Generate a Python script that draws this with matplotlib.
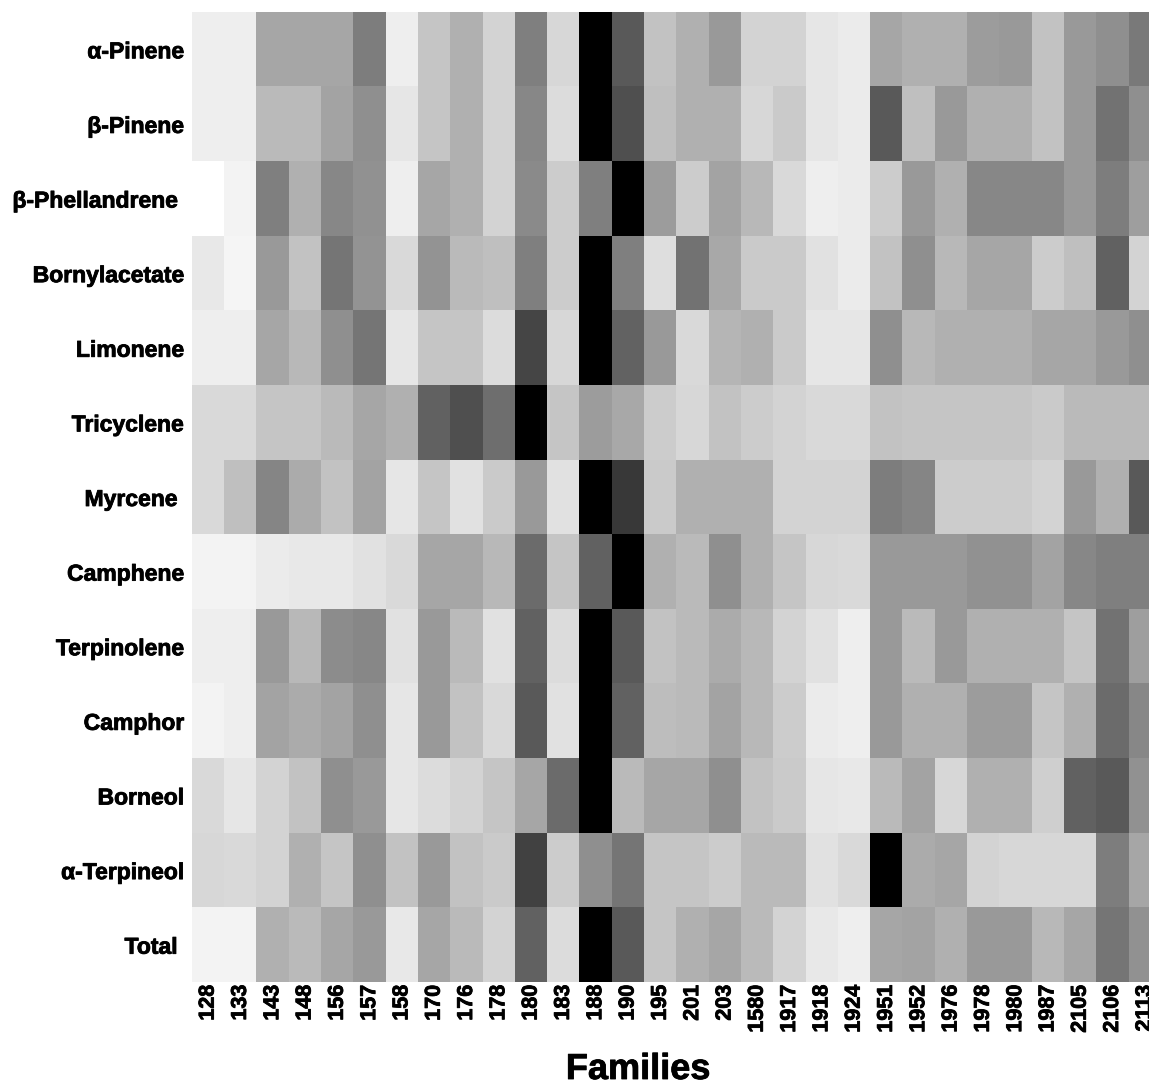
import numpy as np
import matplotlib
matplotlib.use("Agg")
import matplotlib.pyplot as plt
import matplotlib.patheffects as pe

# compounds (rows) and families (columns)
compounds = ["α-Pinene", "β-Pinene", "β-Phellandrene ", "Bornylacetate", "Limonene",
             "Tricyclene", "Myrcene ", "Camphene", "Terpinolene", "Camphor",
             "Borneol", "α-Terpineol", "Total "]
families = ["128", "133", "143", "148", "156", "157", "158", "170", "176", "178",
            "180", "183", "188", "190", "195", "201", "203", "1580", "1917", "1918",
            "1924", "1951", "1952", "1976", "1978", "1980", "1987", "2105", "2106", "2113"]

# relative content per compound, % of the highest family
a_pinene      = [7, 7, 35, 35, 35, 51, 7, 23, 31, 17, 50, 16, 100, 65, 24, 31, 40, 17, 17, 10, 8, 35, 31, 31, 39, 40, 24, 40, 44, 52]
b_pinene      = [7, 7, 27, 27, 36, 44, 10, 23, 31, 17, 47, 14, 100, 69, 25, 31, 31, 16, 21, 10, 8, 65, 25, 40, 31, 31, 24, 40, 55, 44]
b_phellandren = [0, 5, 50, 31, 47, 43, 7, 35, 31, 17, 46, 20, 50, 100, 39, 20, 36, 28, 15, 7, 8, 20, 40, 31, 47, 47, 47, 40, 51, 38]
bornylacetate = [9, 4, 40, 24, 54, 42, 15, 42, 27, 25, 50, 20, 100, 50, 13, 55, 34, 21, 21, 12, 8, 24, 44, 28, 35, 35, 20, 25, 62, 17]
limonene      = [7, 7, 35, 28, 44, 54, 10, 23, 23, 14, 73, 16, 100, 61, 40, 15, 29, 31, 21, 10, 10, 44, 28, 31, 31, 31, 35, 35, 40, 44]
tricyclene    = [15, 15, 23, 23, 27, 35, 31, 62, 69, 57, 100, 23, 39, 34, 20, 16, 24, 20, 17, 15, 15, 24, 23, 23, 23, 23, 21, 27, 27, 27]
myrcene       = [15, 25, 48, 33, 24, 36, 10, 23, 12, 21, 40, 12, 100, 78, 21, 31, 31, 31, 17, 17, 17, 51, 48, 20, 20, 20, 17, 40, 31, 65]
camphene      = [5, 5, 8, 9, 9, 12, 15, 35, 35, 28, 58, 23, 62, 100, 31, 27, 44, 31, 23, 16, 15, 40, 40, 40, 43, 43, 36, 47, 50, 50]
terpinolene   = [7, 7, 40, 28, 45, 47, 12, 40, 27, 12, 62, 14, 100, 65, 24, 27, 33, 28, 17, 12, 7, 40, 27, 40, 31, 31, 31, 23, 55, 38]
camphor       = [5, 7, 36, 33, 36, 44, 10, 40, 24, 15, 65, 12, 100, 62, 26, 27, 36, 28, 20, 8, 7, 40, 31, 31, 39, 39, 23, 31, 58, 47]
borneol       = [15, 10, 17, 24, 44, 40, 10, 14, 17, 23, 35, 58, 100, 27, 35, 35, 44, 24, 21, 10, 9, 27, 36, 16, 31, 31, 19, 62, 65, 43]
a_terpineol   = [16, 15, 17, 31, 23, 44, 24, 40, 24, 21, 74, 20, 44, 54, 23, 23, 20, 27, 27, 12, 15, 100, 33, 35, 17, 16, 16, 16, 51, 35]
total         = [5, 5, 31, 27, 35, 40, 9, 35, 27, 17, 62, 14, 100, 65, 23, 31, 35, 27, 17, 9, 7, 35, 36, 31, 40, 40, 28, 35, 54, 43]

data = np.array([a_pinene, b_pinene, b_phellandren, bornylacetate, limonene,
                 tricyclene, myrcene, camphene, terpinolene, camphor,
                 borneol, a_terpineol, total], dtype=float)

plt.rcParams["font.family"] = ["Liberation Sans", "DejaVu Sans"]
plt.rcParams["font.weight"] = "bold"

W, H = 1149, 1085
fig = plt.figure(figsize=(W / 100, H / 100), dpi=100)
# heatmap runs a little past the right edge of the canvas
ax = fig.add_axes([192 / W, (H - 982) / H, (1161 - 192) / W, (982 - 12) / H])

ax.imshow(data, cmap="gray_r", vmin=0, vmax=100, aspect="auto", interpolation="nearest")

# slightly heavier strokes on the labels
heavy = [pe.withStroke(linewidth=0.6, foreground="black")]

ax.set_xticks(np.arange(len(families)))
ax.set_xticklabels(families, rotation=90, fontsize=15.5, fontweight="bold")
ax.set_yticks(np.arange(len(compounds)))
ax.set_yticklabels(compounds, fontsize=16.5, fontweight="bold")
for lbl in ax.get_xticklabels() + ax.get_yticklabels():
    lbl.set_path_effects(heavy)
ax.tick_params(axis="both", length=0)
ax.tick_params(axis="x", pad=2)
ax.tick_params(axis="y", pad=6)
for s in ax.spines.values():
    s.set_visible(False)

fig.text(638 / W, 1 - 1079 / H, "Families", ha="center", va="baseline",
         fontsize=26, fontweight="bold", path_effects=heavy)

fig.savefig("out.png", dpi=100)
